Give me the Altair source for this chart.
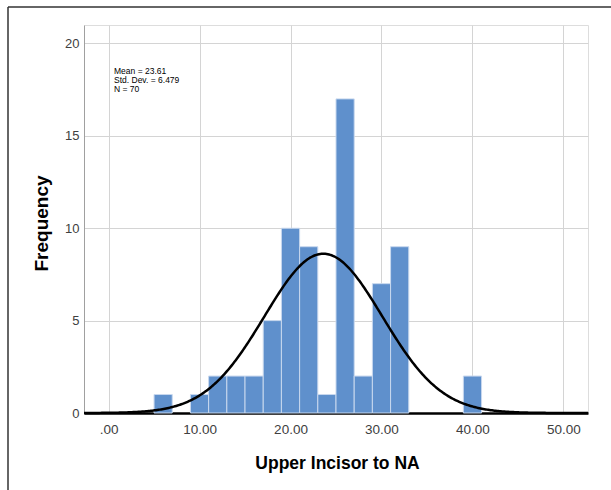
import altair as alt
import pandas as pd
import numpy as np

# ---- data ----
bin_start = [5, 9, 11, 13, 15, 17, 19, 21, 23, 25, 27, 29, 31, 39]
bin_end = [7, 11, 13, 15, 17, 19, 21, 23, 25, 27, 29, 31, 33, 41]
counts = [1, 1, 2, 2, 2, 5, 10, 9, 1, 17, 2, 7, 9, 2]
x_ticks = [0, 10, 20, 30, 40, 50]
y_ticks = [0, 5, 10, 15, 20]
stats_labels = ["Mean = 23.61", "Std. Dev. = 6.479", "N = 70"]
stats_y = [18.5, 18.03, 17.56]
mean_val = 23.61
sd_val = 6.479
n_val = 70
bin_width = 2

x_domain = [-2.7, 52.7]
y_domain = [0, 21]

bars = pd.DataFrame({"start": bin_start, "end": bin_end, "count": counts})
xs = np.linspace(x_domain[0], x_domain[1], 400)
ys = n_val * bin_width / (sd_val * np.sqrt(2 * np.pi)) * np.exp(-0.5 * ((xs - mean_val) / sd_val) ** 2)
curve = pd.DataFrame({"x": xs, "y": ys})
stats = pd.DataFrame({"label": stats_labels, "y": stats_y, "x": [0.6] * 3})

FONT = "Liberation Sans"

xscale = alt.Scale(domain=x_domain, nice=False, zero=False, padding=0)
yscale = alt.Scale(domain=y_domain, nice=False, padding=0)

x_axis = alt.Axis(
    values=x_ticks, grid=True, gridColor="#d4d4d4", gridWidth=1,
    ticks=False, domainColor="#000000", domainWidth=2.5, offset=0,
    labelExpr="datum.value == 0 ? '.00' : format(datum.value, '.2f')",
    labelFont=FONT, labelFontSize=13.5, labelColor="#404040", labelPadding=9,
    title="Upper Incisor to NA", titleFont=FONT, titleFontSize=17.5, titleFontWeight="bold",
    titleColor="#000000", titleX=253, titleY=55, titleBaseline="alphabetic", titleAlign="center",
)
y_axis = alt.Axis(
    values=y_ticks, grid=True, gridColor="#d4d4d4", gridWidth=1,
    ticks=False, domainColor="#a0a0a0", domainWidth=1, offset=0,
    labelFont=FONT, labelFontSize=13, labelColor="#404040", labelPadding=5,
    title="Frequency", titleFont=FONT, titleFontSize=19, titleFontWeight="bold",
    titleColor="#000000", titleX=-43, titleY=198, titleBaseline="middle", titleAlign="center",
    titleAngle=270,
)

bar_layer = alt.Chart(bars).mark_bar(
    color="#5f90cc", stroke="#c8d8ee", strokeWidth=1
).encode(
    x=alt.X("start:Q", scale=xscale, axis=x_axis),
    x2="end:Q",
    y=alt.Y("count:Q", scale=yscale, axis=y_axis),
    y2=alt.datum(0),
)

curve_layer = alt.Chart(curve).mark_line(color="#000000", strokeWidth=2.5).encode(
    x=alt.X("x:Q", scale=xscale),
    y=alt.Y("y:Q", scale=yscale),
)

text_layer = alt.Chart(stats).mark_text(
    align="left", baseline="middle", font=FONT, fontSize=8.5, color="#000000"
).encode(
    x=alt.X("x:Q", scale=xscale),
    y=alt.Y("y:Q", scale=yscale),
    text="label:N",
)

frame_top = alt.Chart(pd.DataFrame({"a": [0]})).mark_rule(color="#333333", strokeWidth=1.5).encode(
    x=alt.value(-76), x2=alt.value(540), y=alt.value(-18)
)
frame_left = alt.Chart(pd.DataFrame({"a": [0]})).mark_rule(color="#333333", strokeWidth=1.5).encode(
    x=alt.value(-76), y=alt.value(-18), y2=alt.value(480)
)

chart = alt.layer(bar_layer, curve_layer, text_layer, frame_top, frame_left).properties(
    width=504, height=388,
    autosize=alt.AutoSizeParams(type="none"),
    padding={"left": 84, "top": 25, "right": 23, "bottom": 77},
).configure_view(stroke=None).configure(background="#ffffff")

chart.save("out.html", embed_options={"renderer": "svg", "actions": False})
